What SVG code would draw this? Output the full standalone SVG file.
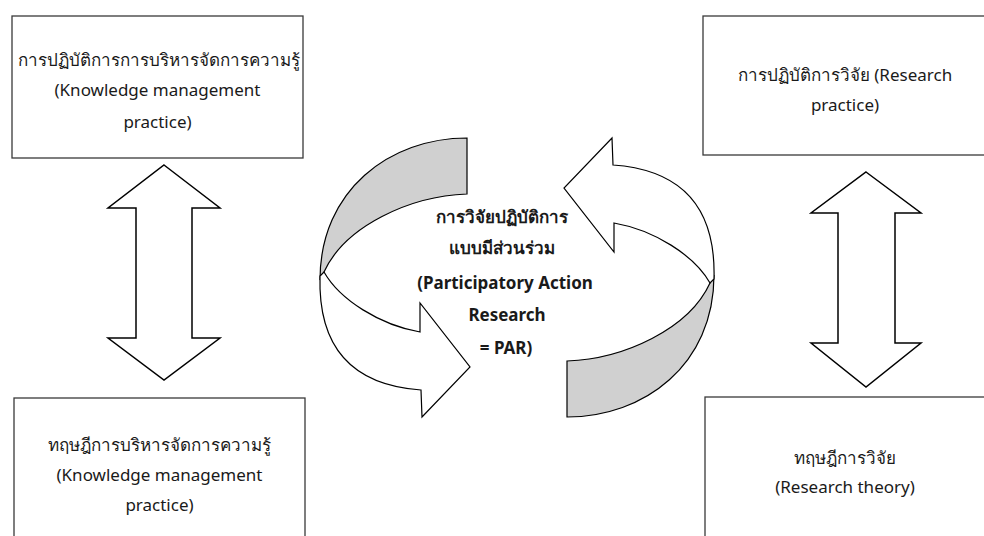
<svg xmlns="http://www.w3.org/2000/svg" width="984" height="536" viewBox="0 0 984 536">
<defs>
<style>
.box{fill:#fff;stroke:#3a3a3a;stroke-width:1.3}
.arr{fill:#fff;stroke:#000;stroke-width:1.5;stroke-linejoin:miter}
.band{fill:#d0d0d0;stroke:#000;stroke-width:1.2}
.wt{fill:#fff;stroke:#000;stroke-width:1.2}
.t{font-family:"Noto Sans","DejaVu Sans",sans-serif;font-size:17px;fill:#1a1a1a;text-anchor:middle}
.b{font-weight:bold}
</style>
<g id="curve">
<path class="band" d="M467,138 L467,194 C410,196 345,226 324,272 L320,280 C320,190 390,138 467,138 Z"/>
<path class="wt" d="M320,276 C318,345 350,385 421,390 L422,417 L470,367 L420,303 L420,332 C380,325 340,300 324,272 Z"/>
</g>
</defs>
<rect width="984" height="536" fill="#fff"/>
<g id="connectors">
<path class="arr" d="M164,165 L220,208 L192,208 L192,338 L220,338 L164,380 L108,338 L136,338 L136,208 L108,208 Z"/>
<path class="arr" d="M866,172 L921,213 L895,213 L895,343 L921,343 L866,387 L811,343 L838,343 L838,213 L811,213 Z"/>
<use href="#curve"/>
<use href="#curve" transform="rotate(180 517 277.5)"/>
</g>
<g id="node-km-practice">
<rect class="box" x="12" y="16" width="291" height="142"/>
<text class="t" x="159" y="66">การปฏิบัติการการบริหารจัดการความรู้</text>
<text class="t" x="157.5" y="96">(Knowledge management</text>
<text class="t" x="157.5" y="128">practice)</text>
</g>
<g id="node-research-practice">
<rect class="box" x="703" y="16" width="290" height="139"/>
<text class="t" x="845" y="81">การปฏิบัติการวิจัย (Research</text>
<text class="t" x="845" y="111">practice)</text>
</g>
<g id="node-km-theory">
<rect class="box" x="14" y="398" width="291" height="150"/>
<text class="t" x="159.5" y="451">ทฤษฎีการบริหารจัดการความรู้</text>
<text class="t" x="159.5" y="481">(Knowledge management</text>
<text class="t" x="159.5" y="511">practice)</text>
</g>
<g id="node-research-theory">
<rect class="box" x="705" y="397" width="290" height="150"/>
<text class="t" x="845" y="464">ทฤษฎีการวิจัย</text>
<text class="t" x="845" y="493">(Research theory)</text>
</g>
<g id="node-par">
<text class="t b" x="502" y="223">การวิจัยปฏิบัติการ</text>
<text class="t b" x="502" y="254">แบบมีส่วนร่วม</text>
<text class="t b" x="505" y="289">(Participatory Action</text>
<text class="t b" x="507" y="321">Research</text>
<text class="t b" x="506" y="354">= PAR)</text>
</g>
</svg>
